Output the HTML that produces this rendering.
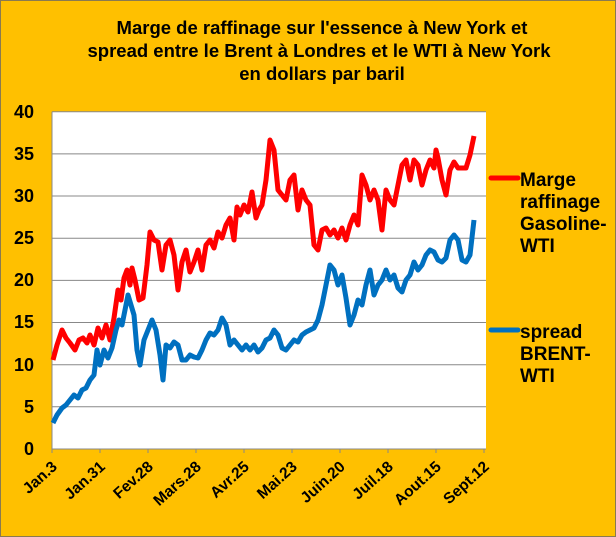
<!DOCTYPE html>
<html><head><meta charset="utf-8"><style>
body{margin:0;background:#fff}
svg{display:block;font-family:"Liberation Sans",Arial,sans-serif;font-weight:bold}
</style></head><body>
<svg width="616" height="537" viewBox="0 0 616 537">
<rect x="0.5" y="0.5" width="615" height="536" fill="#FFC000" stroke="#8a7a50"/>
<g text-anchor="middle" font-size="18.5" fill="#000">
<text x="322" y="34">Marge de raffinage sur l'essence à New York et</text>
<text x="319" y="57">spread entre le Brent à Londres et le WTI  à New York</text>
<text x="322" y="80">en dollars par baril</text>
</g>
<rect x="52" y="111.7" width="434" height="337.3" fill="#fff"/>
<g stroke="#888" stroke-width="1">
<line x1="52" x2="486" y1="111.7" y2="111.7"/><line x1="52" x2="486" y1="153.9" y2="153.9"/>
<line x1="52" x2="486" y1="196" y2="196"/><line x1="52" x2="486" y1="238.2" y2="238.2"/>
<line x1="52" x2="486" y1="280.4" y2="280.4"/><line x1="52" x2="486" y1="322.5" y2="322.5"/>
<line x1="52" x2="486" y1="364.7" y2="364.7"/><line x1="52" x2="486" y1="406.8" y2="406.8"/>
<line x1="52" x2="486" y1="449" y2="449"/><line x1="52" x2="52" y1="111.7" y2="449"/>
<path d="M52 449v4M100 449v4M148 449v4M196 449v4M244 449v4M292 449v4M340 449v4M388 449v4M436 449v4M484 449v4"/>
</g>
<g font-size="18" text-anchor="end" fill="#000">
<text x="34" y="118">40</text><text x="34" y="160">35</text><text x="34" y="202">30</text>
<text x="34" y="244">25</text><text x="34" y="286">20</text><text x="34" y="328">15</text>
<text x="34" y="371">10</text><text x="34" y="413">5</text><text x="34" y="455">0</text>
</g>
<g font-size="15.5" text-anchor="end" fill="#000">
<text transform="translate(58,468) rotate(-42)">Jan.3</text>
<text transform="translate(106,468) rotate(-42)">Jan.31</text>
<text transform="translate(154,468) rotate(-42)">Fev.28</text>
<text transform="translate(202,468) rotate(-42)">Mars.28</text>
<text transform="translate(250,468) rotate(-42)">Avr.25</text>
<text transform="translate(298,468) rotate(-42)">Mai.23</text>
<text transform="translate(346,468) rotate(-42)">Juin.20</text>
<text transform="translate(394,468) rotate(-42)">Juil.18</text>
<text transform="translate(442,468) rotate(-42)">Aout.15</text>
<text transform="translate(490,468) rotate(-42)">Sept.12</text>
</g>
<polyline fill="none" stroke="#FF0000" stroke-width="5" stroke-linejoin="round" points="53,360 57,345 62,330 66,338 70,343 75,350 79,340 83,338 87,343 90,335 94,345 98,328 102,338 106,325 110,340 114,318 118,290 121,300 124,278 127,270 130,285 132,268 135,280 139,300 143,298 147,265 150,232 154,240 158,242 162,270 166,245 170,240 174,255 178,290 182,262 186,250 190,272 194,262 198,250 202,270 206,245 210,240 214,248 218,232 222,238 226,225 230,218 234,240 237,207 240,215 244,205 248,212 252,192 256,218 259,210 262,205 266,180 270,140 274,150 278,190 282,195 286,200 290,180 294,175 298,210 302,190 306,200 310,205 314,245 318,250 322,230 326,228 330,235 334,230 338,238 342,228 346,240 350,225 354,215 358,225 362,175 366,185 370,200 374,190 378,200 382,230 386,190 390,200 394,205 398,185 402,165 406,160 410,180 414,160 418,165 422,185 426,170 430,160 434,168 436,150 438,158 442,180 446,195 450,170 454,162 458,168 462,168 466,168 470,155 474,136"/>
<polyline fill="none" stroke="#0070C0" stroke-width="5" stroke-linejoin="round" points="53,423 57,415 62,408 66,405 70,400 74,395 78,398 82,390 86,388 90,380 94,375 97,350 100,365 104,350 108,358 112,348 116,330 119,320 122,325 125,310 128,295 131,305 134,315 137,350 140,365 144,340 148,330 152,320 156,330 160,355 163,380 166,345 170,348 174,342 178,345 182,360 186,360 190,355 194,357 198,358 202,350 206,340 210,333 214,335 218,330 222,318 226,325 230,345 234,340 238,345 242,350 246,345 250,350 254,345 258,352 262,348 266,340 270,338 274,330 278,335 282,348 286,350 290,345 294,340 298,342 302,335 306,332 310,330 314,328 318,320 322,305 326,285 330,265 334,270 338,285 342,275 346,298 350,325 354,315 358,300 362,305 366,285 370,270 374,295 378,285 382,280 386,270 390,280 394,275 398,288 402,292 406,280 410,275 414,262 418,270 422,265 426,255 430,250 434,252 438,260 442,262 446,258 450,240 454,235 458,240 462,260 466,262 470,255 474,220"/>
<line x1="491" x2="518" y1="178" y2="178" stroke="#FF0000" stroke-width="5" stroke-linecap="round"/>
<line x1="491" x2="518" y1="330" y2="330" stroke="#0070C0" stroke-width="5" stroke-linecap="round"/>
<g font-size="19" fill="#000">
<text x="520" y="186">Marge</text><text x="520" y="208">raffinage</text>
<text x="520" y="230">Gasoline-</text><text x="520" y="252">WTI</text>
<text x="520" y="338">spread</text><text x="520" y="360">BRENT-</text><text x="520" y="382">WTI</text>
</g>
</svg>
</body></html>
